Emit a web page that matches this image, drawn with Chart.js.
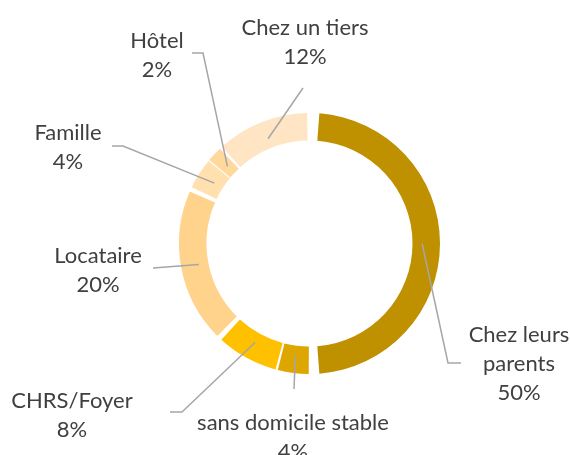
<!DOCTYPE html>
<html>
<head>
<meta charset="utf-8">
<script src="https://cdn.jsdelivr.net/npm/chart.js@4"></script>
<style>
  body { margin: 0; background: #fff; }
</style>
</head>
<body>
<canvas id="chart" width="570" height="455"></canvas>
<script>
const categories = [
  "Chez leurs parents",
  "sans domicile stable",
  "CHRS/Foyer",
  "Locataire",
  "Famille",
  "Hôtel",
  "Chez un tiers",
];
const values = [50, 4, 8, 20, 4, 2, 12];
const colors = ["#BF9000", "#DDA600", "#FFC000", "#FFD38B", "#FFE0AE", "#FFD89C", "#FFE5C4"];

// label placement: text centre x, first baseline y, wrap width, leader end + knee
const labelLayout = [
  { x: 519, y: 342, wrap: 110, end: [461, 363], knee: [448, 363] },
  { x: 293, y: 430, wrap: 300, end: [294, 389], knee: null },
  { x: 72, y: 408, wrap: 200, end: [170, 412], knee: [182, 412] },
  { x: 98, y: 263, wrap: 200, end: [153, 268], knee: null },
  { x: 68, y: 140, wrap: 200, end: [112, 146], knee: [123, 146] },
  { x: 157, y: 48, wrap: 200, end: [192, 53], knee: [203, 53] },
  { x: 305, y: 35, wrap: 200, end: [303, 88], knee: null },
];

const FONT = '22px Lato, "Open Sans", sans-serif';
const LINE_H = 29;

function wrapText(ctx, text, maxW) {
  const words = text.split(" ");
  const lines = [];
  let cur = "";
  words.forEach((w) => {
    const test = cur ? cur + " " + w : w;
    if (cur && ctx.measureText(test).width > maxW) {
      lines.push(cur);
      cur = w;
    } else {
      cur = test;
    }
  });
  if (cur) lines.push(cur);
  return lines;
}

const calloutLabels = {
  id: "calloutLabels",
  afterDatasetsDraw(chart) {
    const ctx = chart.ctx;
    const meta = chart.getDatasetMeta(0);
    const data = chart.data.datasets[0].data;
    const total = data.reduce((a, b) => a + b, 0);
    ctx.save();
    ctx.font = FONT;
    meta.data.forEach((arc, i) => {
      const p = arc.getProps(["x", "y", "startAngle", "endAngle", "innerRadius", "outerRadius"], true);
      const mid = (p.startAngle + p.endAngle) / 2;
      const r = p.innerRadius + 0.55 * (p.outerRadius - p.innerRadius);
      const ax = p.x + Math.cos(mid) * r;
      const ay = p.y + Math.sin(mid) * r;
      const lay = labelLayout[i];

      ctx.strokeStyle = "#A6A6A6";
      ctx.lineWidth = 1.5;
      ctx.beginPath();
      ctx.moveTo(ax, ay);
      if (lay.knee) ctx.lineTo(lay.knee[0], lay.knee[1]);
      ctx.lineTo(lay.end[0], lay.end[1]);
      ctx.stroke();

      const lines = wrapText(ctx, chart.data.labels[i], lay.wrap);
      lines.push(Math.round((data[i] / total) * 100) + "%");
      ctx.fillStyle = "#404040";
      ctx.textAlign = "center";
      ctx.textBaseline = "alphabetic";
      lines.forEach((t, k) => ctx.fillText(t, lay.x, lay.y + k * LINE_H));
    });
    ctx.restore();
  },
};

const ctx = document.getElementById("chart").getContext("2d");
const doughnut = new Chart(ctx, {
  type: "doughnut",
  data: {
    labels: categories,
    datasets: [
      {
        data: values,
        backgroundColor: colors,
        borderWidth: 0,
        spacing: 11,
      },
    ],
  },
  options: {
    responsive: false,
    animation: false,
    cutout: "78%",
    layout: { padding: { left: 179, right: 130, top: 113, bottom: 81 } },
    plugins: {
      legend: { display: false },
      tooltip: { enabled: false },
    },
  },
  plugins: [calloutLabels],
});
</script>
</body>
</html>
